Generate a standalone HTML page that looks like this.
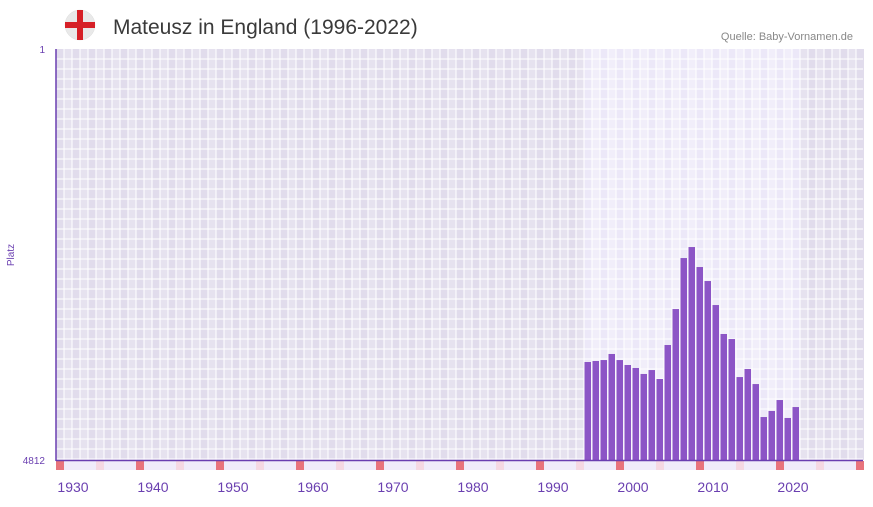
<!DOCTYPE html>
<html><head><meta charset="utf-8"><style>
body{margin:0;background:#fff;font-family:"Liberation Sans",sans-serif}
svg text{font-family:"Liberation Sans",sans-serif}
</style></head><body>
<svg id="c" width="873" height="502" xmlns="http://www.w3.org/2000/svg">
<g>
<circle cx="80" cy="25" r="15" fill="#e9e9e9" stroke="#dcdcdc" stroke-width="0.5"/>
<rect x="65" y="22" width="30" height="6" fill="#d62027"/>
<rect x="77" y="10" width="6" height="30" fill="#d62027"/>
</g>
<text x="113" y="34" font-size="21" fill="#3a3a3a">Mateusz in England (1996-2022)</text>
<text x="853" y="40" font-size="11" fill="#888" text-anchor="end">Quelle: Baby-Vornamen.de</text>
<text x="14" y="255" font-size="10" fill="#6a3fb0" text-anchor="middle" transform="rotate(-90 14 255)">Platz</text>
<text x="45" y="53" font-size="10" fill="#6a3fb0" text-anchor="end">1</text>
<text x="45" y="464" font-size="10" fill="#6a3fb0" text-anchor="end">4812</text>
<g id="bg"></g><g id="grid"></g><g id="bars"></g><g id="strip"></g><g id="xt"></g>
<line x1="56" y1="49" x2="56" y2="461" stroke="#6a3fb0" stroke-width="1.5"/>
<line x1="56" y1="460.5" x2="863" y2="460.5" stroke="#6a3fb0" stroke-width="1.5"/>
</svg>
<script>
const years=[1996,1997,1998,1999,2000,2001,2002,2003,2004,2005,2006,2007,2008,2009,2010,2011,2012,2013,2014,2015,2016,2017,2018,2019,2020,2021,2022];
const ranks=[3665,3653,3642,3571,3642,3700,3735,3805,3759,3864,3466,3045,2448,2319,2553,2717,2998,3337,3396,3841,3747,3923,4309,4238,4110,4320,4192];
const xTicks=[1930,1940,1950,1960,1970,1980,1990,2000,2010,2020];
const yMin=1,yMax=4812,startYear=1930,endYear=2030;
const L=56,T=49,B=460,CW=8;
const NS='http://www.w3.org/2000/svg';
const X=y=>L+(y-startYear)*CW;
const Y=r=>T+(r-yMin)/(yMax-yMin)*(B-T);
function mk(tag,at,parent){const e=document.createElementNS(NS,tag);for(const k in at)e.setAttribute(k,at[k]);document.getElementById(parent).appendChild(e);return e;}
const y0=years[0],y1=years[years.length-1];
for(let yr=startYear;yr<=endYear;yr++){
 const inR=yr>=y0&&yr<=y1;
 const c=mk('rect',{x:X(yr),y:T,width:CW,height:B-T,fill:inR?(yr%2?'#f1eefa':'#ece8f8'):(yr%2?'#e6e2ef':'#e1dcec')},'bg');
 
 
 const sc=yr%10===0?'#e8747c':(yr%5===0?'#f5d8e2':'#f0ecfa');
 const s=mk('rect',{x:X(yr),y:461,width:CW,height:9,fill:sc},'strip');
 
 
}
for(let yr=startYear+1;yr<=endYear;yr++){
 const l=mk('line',{x1:X(yr),x2:X(yr),y1:T,y2:B,stroke:'#fff','stroke-width':1.3,'stroke-opacity':0.8},'grid');
 
 
}
for(let gy=T+10;gy<B;gy+=10){
 const l=mk('line',{x1:L,x2:863,y1:gy,y2:gy,stroke:'#fff','stroke-width':1.3,'stroke-opacity':0.8},'grid');
 
 
}
years.forEach((yr,i)=>{
 const top=Y(ranks[i]);
 const b=mk('rect',{x:X(yr)+0.5,y:top,width:CW-1.5,height:B-top,fill:'#8c55c6'},'bars');
 
 
});
xTicks.forEach(t=>{
 const e=mk('text',{x:X(t)+CW*2+1,y:492,'font-size':14,fill:'#6a3fb0','text-anchor':'middle'},'xt');
 e.textContent=t;
 
 
});
</script>
</body></html>
